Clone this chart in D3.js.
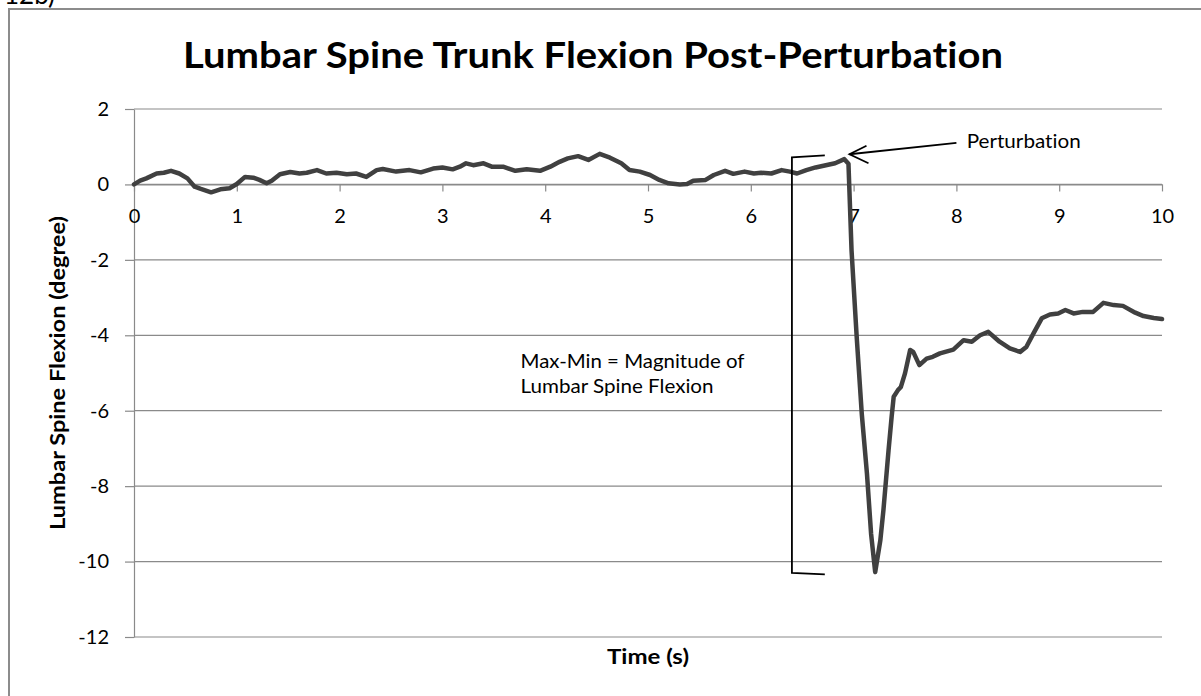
<!DOCTYPE html>
<html>
<head>
<meta charset="utf-8">
<script src="https://cdn.jsdelivr.net/npm/d3@7"></script>
<style>
  html, body { margin: 0; padding: 0; background: #fff; }
  svg { display: block; font-family: Lato, "Open Sans", sans-serif; font-variant-ligatures: none; }
</style>
</head>
<body>
<svg id="chart" width="1201" height="696"></svg>
<script>
// ---- data ----
const timeSec = [
  0, 0.06, 0.12, 0.22, 0.29, 0.36, 0.44, 0.52, 0.59, 0.65,
  0.75, 0.84, 0.93, 1.0, 1.08, 1.16, 1.22, 1.29, 1.34, 1.42,
  1.52, 1.61, 1.68, 1.78, 1.87, 1.97, 2.07, 2.16, 2.26, 2.36,
  2.42, 2.55, 2.68, 2.79, 2.91, 3.0, 3.1, 3.17, 3.23, 3.30,
  3.40, 3.48, 3.59, 3.71, 3.82, 3.95, 4.05, 4.14, 4.22, 4.32,
  4.42, 4.53, 4.63, 4.74, 4.82, 4.92, 5.02, 5.11, 5.2, 5.31,
  5.38, 5.44, 5.56, 5.64, 5.75, 5.83, 5.94, 6.03, 6.10, 6.2,
  6.30, 6.38, 6.45, 6.54, 6.63, 6.73, 6.82, 6.91, 6.95, 6.98,
  7.03, 7.08, 7.13, 7.17, 7.21, 7.26, 7.29, 7.34, 7.37, 7.39,
  7.43, 7.46, 7.50, 7.55, 7.58, 7.64, 7.71, 7.77, 7.84, 7.97,
  8.07, 8.15, 8.23, 8.31, 8.42, 8.52, 8.62, 8.68, 8.75, 8.83,
  8.91, 8.99, 9.06, 9.14, 9.23, 9.33, 9.43, 9.53, 9.62, 9.74,
  9.82, 9.92, 10.0
];
const flexionDeg = [
  0, 0.1, 0.16, 0.29, 0.31, 0.36, 0.29, 0.16, -0.06, -0.12,
  -0.21, -0.13, -0.1, 0.01, 0.2, 0.18, 0.12, 0.03, 0.1, 0.27,
  0.33, 0.29, 0.31, 0.38, 0.29, 0.31, 0.27, 0.29, 0.2, 0.38,
  0.41, 0.34, 0.38, 0.32, 0.42, 0.45, 0.4, 0.47, 0.56, 0.51,
  0.56, 0.47, 0.47, 0.36, 0.4, 0.36, 0.47, 0.6, 0.69, 0.75,
  0.65, 0.81, 0.71, 0.56, 0.38, 0.34, 0.25, 0.12, 0.03, 0.0,
  0.01, 0.1, 0.12, 0.25, 0.36, 0.28, 0.34, 0.29, 0.31, 0.29,
  0.38, 0.34, 0.29, 0.38, 0.45, 0.51, 0.56, 0.67, 0.55, -1.75,
  -4.04, -6.1, -7.67, -9.26, -10.28, -9.44, -8.64, -7.05, -6.16, -5.63,
  -5.46, -5.37, -5.01, -4.39, -4.44, -4.79, -4.62, -4.57, -4.48, -4.38,
  -4.13, -4.17, -4.0, -3.91, -4.17, -4.35, -4.44, -4.31, -3.95, -3.55,
  -3.45, -3.42, -3.33, -3.42, -3.38, -3.38, -3.14, -3.2, -3.22, -3.40,
  -3.49, -3.54, -3.57
];
const xTickValues = [0, 1, 2, 3, 4, 5, 6, 7, 8, 9, 10];
const yTickValues = [-12, -10, -8, -6, -4, -2, 0, 2];
const titleText = "Lumbar Spine Trunk Flexion Post-Perturbation";
const xTitle = "Time (s)";
const yTitle = "Lumbar Spine Flexion (degree)";
const panelLabel = "12b)";
const arrowLabel = "Perturbation";
const bracketLabel = ["Max-Min = Magnitude of", "Lumbar Spine Flexion"];

// ---- layout ----
const svg = d3.select("#chart");
const plot = { left: 134, right: 1162, top: 109, bottom: 637 };
const x = d3.scaleLinear().domain([0, 10]).range([plot.left, plot.right]);
const y = d3.scaleLinear().domain([-12, 2]).range([plot.bottom, plot.top]);
const gridColor = "#8a8a8a";
const fmt = d => String(d); // plain hyphen-minus like the reference

// outer frame (partly clipped in the reference)
svg.append("path")
  .attr("d", "M9,696 L9,9 L1201,9")
  .attr("fill", "none").attr("stroke", "#8c8c8c").attr("stroke-width", 2);

// panel label, cut off at the top edge as in the reference
svg.append("text")
  .attr("x", 4).attr("y", 4)
  .attr("font-size", 26).attr("fill", "#000")
  .text(panelLabel);

// gridlines
svg.append("g").selectAll("line").data(yTickValues).join("line")
  .attr("x1", plot.left).attr("x2", plot.right)
  .attr("y1", d => y(d)).attr("y2", d => y(d))
  .attr("stroke", gridColor).attr("stroke-width", 1.2);

// y axis
const yAxis = svg.append("g").attr("transform", `translate(${plot.left},0)`)
  .call(d3.axisLeft(y).tickValues(yTickValues).tickFormat(fmt).tickSize(9).tickSizeOuter(0).tickPadding(16));
yAxis.select(".domain").attr("stroke", gridColor).attr("stroke-width", 1.2);
yAxis.selectAll(".tick line").attr("stroke", gridColor).attr("stroke-width", 1.2);
yAxis.selectAll(".tick text").attr("font-size", 20).attr("fill", "#000")
  .attr("font-family", "Lato, sans-serif");

// x axis at y = 0
const xAxis = svg.append("g").attr("transform", `translate(0,${y(0)})`)
  .call(d3.axisBottom(x).tickValues(xTickValues).tickFormat(fmt).tickSize(7).tickSizeOuter(0).tickPadding(17));
xAxis.select(".domain").attr("stroke", gridColor).attr("stroke-width", 1.2);
xAxis.selectAll(".tick line").attr("stroke", gridColor).attr("stroke-width", 1.2);
xAxis.selectAll(".tick text").attr("font-size", 20).attr("fill", "#000")
  .attr("font-family", "Lato, sans-serif");

// series line
const pts = timeSec.map((t, i) => [t, flexionDeg[i]]);
svg.append("path")
  .datum(pts)
  .attr("fill", "none")
  .attr("stroke", "#404040")
  .attr("stroke-width", 4.5)
  .attr("stroke-linejoin", "round")
  .attr("stroke-linecap", "round")
  .attr("d", d3.line().x(d => x(d[0])).y(d => y(d[1])));

// title
svg.append("text")
  .attr("x", 593).attr("y", 68)
  .attr("text-anchor", "middle")
  .attr("font-size", 36).attr("font-weight", 700).attr("fill", "#000")
  .attr("textLength", 820).attr("lengthAdjust", "spacingAndGlyphs")
  .text(titleText);

// axis titles
svg.append("text")
  .attr("x", (plot.left + plot.right) / 2).attr("y", 664)
  .attr("text-anchor", "middle")
  .attr("font-size", 20).attr("font-weight", 700).attr("fill", "#000")
  .attr("textLength", 82).attr("lengthAdjust", "spacingAndGlyphs")
  .text(xTitle);

svg.append("text")
  .attr("transform", `translate(65,${(plot.top + plot.bottom) / 2}) rotate(-90)`)
  .attr("text-anchor", "middle")
  .attr("font-size", 20.5).attr("font-weight", 700).attr("fill", "#000")
  .attr("textLength", 314).attr("lengthAdjust", "spacingAndGlyphs")
  .text(yTitle);

// bracket annotation
const bx = 6.4, bxEnd = 6.72, bTop = 0.72, bBot = -10.3;
svg.append("path")
  .attr("d", `M${x(bxEnd)},${y(bTop) - 2} L${x(bx)},${y(bTop)} L${x(bx)},${y(bBot)} L${x(bxEnd)},${y(bBot) + 1.5}`)
  .attr("fill", "none").attr("stroke", "#000").attr("stroke-width", 1.8);

const bracketLens = [224, 193];
svg.append("g").selectAll("text").data(bracketLabel).join("text")
  .attr("x", x(3.76))
  .attr("y", (d, i) => y(-4.877) + i * 25)
  .attr("font-size", 19).attr("fill", "#000")
  .attr("textLength", (d, i) => bracketLens[i]).attr("lengthAdjust", "spacingAndGlyphs")
  .text(d => d);

// perturbation arrow
const ax0 = x(8.0), ay0 = y(1.1), ax1 = x(6.96), ay1 = y(0.8);
svg.append("line")
  .attr("x1", ax0).attr("y1", ay0).attr("x2", ax1).attr("y2", ay1)
  .attr("stroke", "#000").attr("stroke-width", 1.8);
svg.append("path")
  .attr("d", `M${ax1 + 17},${ay1 - 8.5} L${ax1},${ay1} L${ax1 + 19},${ay1 + 9}`)
  .attr("fill", "none").attr("stroke", "#000").attr("stroke-width", 1.8);
svg.append("text")
  .attr("x", x(8.1)).attr("y", y(0.96))
  .attr("font-size", 19).attr("fill", "#000")
  .attr("textLength", 114).attr("lengthAdjust", "spacingAndGlyphs")
  .text(arrowLabel);
</script>
</body>
</html>
